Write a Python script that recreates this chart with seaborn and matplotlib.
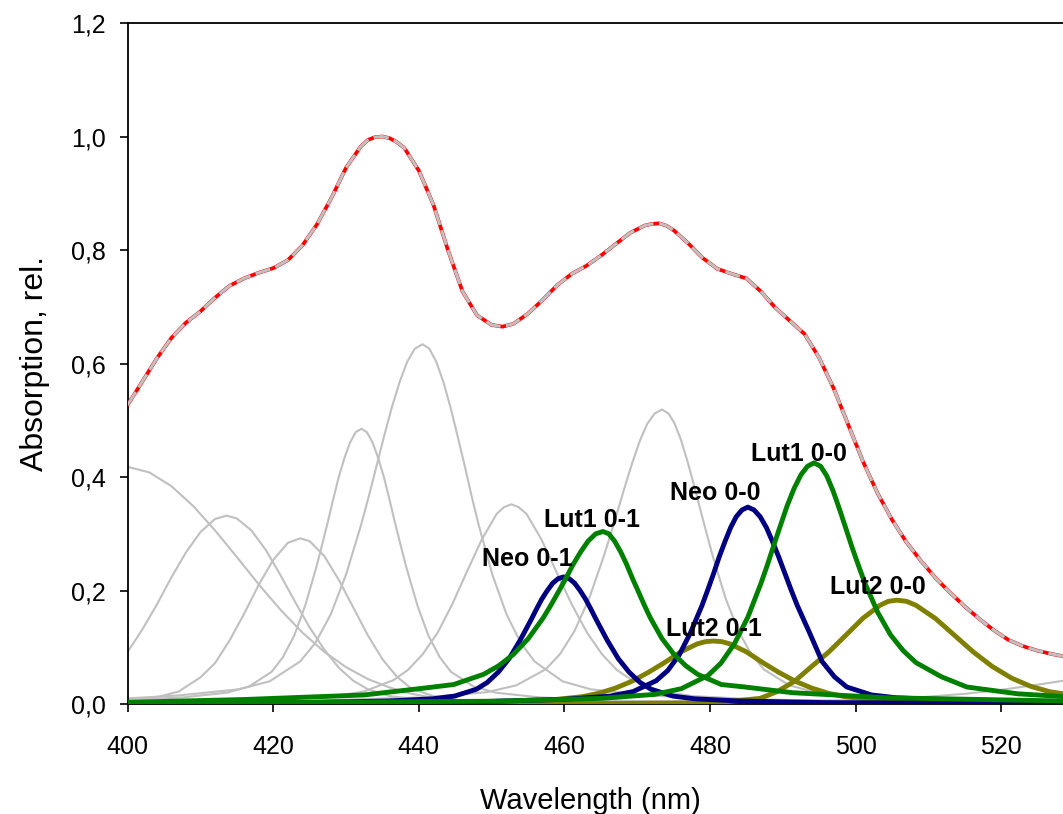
import matplotlib
matplotlib.use("Agg")
import matplotlib.pyplot as plt
import seaborn as sns

# ---------------- data ----------------
total_x = [400, 402, 404, 406, 408, 410, 412, 414, 416, 418, 420, 422, 424, 426, 428, 430, 432, 433, 434, 435, 436,
           437, 438, 440, 442, 444, 446, 448, 450, 451.5, 453, 455, 457, 459, 461, 463, 465, 467, 469, 471, 472,
           473, 474, 475, 477, 479, 481, 483, 485, 487, 489, 491, 493, 495, 497, 499, 501, 503, 505, 507, 509,
           511, 513, 515, 517, 519, 521, 523, 525, 527, 529]
total_y = [0.527, 0.568, 0.609, 0.645, 0.672, 0.692, 0.716, 0.737, 0.750, 0.760, 0.768, 0.782, 0.808, 0.845,
           0.892, 0.945, 0.982, 0.994, 0.999, 1.000, 0.997, 0.990, 0.980, 0.940, 0.880, 0.800, 0.727, 0.685,
           0.668, 0.665, 0.670, 0.688, 0.712, 0.738, 0.758, 0.772, 0.790, 0.810, 0.830, 0.843, 0.846, 0.847,
           0.843, 0.835, 0.812, 0.786, 0.767, 0.758, 0.750, 0.727, 0.698, 0.675, 0.652, 0.610, 0.556, 0.492,
           0.428, 0.372, 0.325, 0.285, 0.252, 0.222, 0.196, 0.172, 0.150, 0.130, 0.113, 0.102, 0.094, 0.088, 0.083]

# grey (unassigned) bands
g1_x = [400, 403, 406, 409, 412, 415, 418, 421, 424, 427, 430, 433, 436, 439, 442, 446, 450, 460, 480, 530]
g1_y = [0.418, 0.408, 0.384, 0.349, 0.306, 0.259, 0.211, 0.166, 0.126, 0.092, 0.065, 0.044, 0.029, 0.018,
        0.011, 0.006, 0.004, 0.002, 0.001, 0.0]
g2_x = [400, 402, 404, 406, 408, 410, 412, 413.6, 415, 417, 419, 421, 423, 425, 427, 429, 431, 433, 436, 440,
        445, 455, 480, 530]
g2_y = [0.092, 0.131, 0.175, 0.223, 0.267, 0.303, 0.326, 0.332, 0.327, 0.306, 0.271, 0.227, 0.180, 0.135,
        0.096, 0.064, 0.041, 0.026, 0.014, 0.008, 0.005, 0.002, 0.001, 0.0]
g3_x = [400, 404, 407, 410, 412, 414, 416, 418, 420, 422, 423.7, 425, 427, 429, 431, 433, 435, 437, 439, 442,
        446, 452, 470, 530]
g3_y = [0.006, 0.012, 0.022, 0.047, 0.072, 0.112, 0.159, 0.210, 0.254, 0.284, 0.292, 0.287, 0.261, 0.219,
        0.170, 0.121, 0.079, 0.048, 0.027, 0.014, 0.006, 0.003, 0.001, 0.0]
g4_x = [400, 407.5, 413.65, 416.7, 419.8, 421.3, 422.9, 424.4, 425.95, 426.72, 427.5, 428.26, 429.0, 429.79,
        430.56, 431.33, 432.1, 432.87, 433.64, 434.41, 435.2, 435.94, 436.7, 437.48, 438.25, 439.8, 441.3,
        442.9, 444.4, 447.5, 450.55, 456.7, 469.0, 530]
g4_y = [0.007, 0.0116, 0.020, 0.031, 0.057, 0.082, 0.121, 0.174, 0.2425, 0.281, 0.321, 0.362, 0.400, 0.434,
        0.461, 0.479, 0.485, 0.479, 0.461, 0.434, 0.400, 0.362, 0.321, 0.281, 0.2425, 0.174, 0.121, 0.082,
        0.057, 0.031, 0.020, 0.0116, 0.0053, 0.001]
g5_x = [400, 406.9, 415.3, 419.5, 423.7, 425.8, 427.9, 430.0, 432.1, 433.15, 434.2, 435.25, 436.3, 437.35,
        438.4, 439.45, 440.5, 441.46, 442.4, 443.39, 444.35, 445.31, 446.3, 447.24, 448.2, 450.1, 452.05,
        454.0, 455.9, 459.75, 463.6, 471.3, 486.7, 530]
g5_y = [0.010, 0.015, 0.026, 0.040, 0.075, 0.108, 0.158, 0.228, 0.317, 0.367, 0.420, 0.473, 0.523, 0.567,
        0.603, 0.626, 0.634, 0.626, 0.603, 0.567, 0.523, 0.473, 0.420, 0.367, 0.317, 0.228, 0.158, 0.108,
        0.075, 0.040, 0.026, 0.015, 0.007, 0.002]
g6_x = [400, 404.1, 420.3, 428.4, 432.45, 436.5, 438.5, 440.55, 442.6, 444.6, 446.6, 448.65, 450.7, 451.7,
        452.7, 453.7, 454.8, 456.85, 458.9, 461.0, 463.1, 465.15, 467.2, 469.3, 473.45, 477.6, 485.9, 502.5, 530]
g6_y = [0.003, 0.004, 0.0085, 0.014, 0.022, 0.042, 0.060, 0.088, 0.126, 0.176, 0.233, 0.290, 0.335, 0.347,
        0.352, 0.347, 0.335, 0.290, 0.233, 0.176, 0.126, 0.088, 0.060, 0.042, 0.022, 0.014, 0.0085, 0.004, 0.0016]
g7_x = [400, 425.4, 441.4, 449.4, 453.4, 457.4, 459.4, 461.4, 463.4, 465.4, 466.4, 467.4, 468.4, 469.4, 470.4,
        471.4, 472.4, 473.4, 474.3, 475.15, 476.03, 476.9, 477.78, 478.65, 479.53, 480.4, 482.15, 483.9, 485.65,
        487.4, 490.9, 494.4, 501.4, 515.4, 530]
g7_y = [0.0024, 0.006, 0.012, 0.021, 0.033, 0.061, 0.088, 0.129, 0.186, 0.260, 0.301, 0.344, 0.387, 0.428,
        0.465, 0.494, 0.512, 0.519, 0.512, 0.494, 0.465, 0.428, 0.387, 0.344, 0.301, 0.260, 0.186, 0.129,
        0.088, 0.061, 0.033, 0.021, 0.012, 0.006, 0.003]
g8_x = [480, 490, 500, 505, 510, 515, 520, 525, 530]
g8_y = [0.002, 0.004, 0.007, 0.009, 0.013, 0.018, 0.025, 0.034, 0.044]

# assigned bands
neo01_x = [400, 423.9, 435.9, 441.9, 444.9, 447.9, 449.4, 450.9, 452.4, 453.9, 454.65, 455.4, 456.15, 456.9,
           457.65, 458.4, 459.15, 459.9, 460.65, 461.4, 462.15, 462.9, 463.65, 464.4, 465.15, 465.9, 467.4,
           468.9, 470.4, 471.9, 474.9, 477.9, 483.9, 495.9, 530]
neo01_y = [0.001, 0.0025, 0.0054, 0.0092, 0.014, 0.026, 0.038, 0.056, 0.080, 0.112, 0.130, 0.148, 0.167,
           0.185, 0.200, 0.213, 0.221, 0.224, 0.221, 0.213, 0.200, 0.185, 0.167, 0.148, 0.130, 0.112, 0.080,
           0.056, 0.038, 0.026, 0.014, 0.0092, 0.0054, 0.0025, 0.001]
neo00_x = [400, 447.4, 460.0, 466.3, 469.45, 472.6, 474.2, 475.75, 477.3, 478.9, 479.69, 480.5, 481.26, 482.05,
           482.84, 483.6, 484.4, 485.2, 486.05, 486.9, 487.75, 488.6, 489.45, 490.3, 491.15, 492.0, 493.7,
           495.4, 497.1, 498.8, 502.2, 505.6, 512.4, 526.0, 530]
neo00_y = [0.001, 0.0038, 0.0083, 0.014, 0.022, 0.041, 0.059, 0.086, 0.125, 0.1735, 0.201, 0.230, 0.259,
           0.286, 0.311, 0.330, 0.342, 0.347, 0.342, 0.330, 0.311, 0.286, 0.259, 0.230, 0.201, 0.1735, 0.125,
           0.075, 0.048, 0.030, 0.016, 0.011, 0.0075, 0.0038, 0.003]
lut101_x = [400, 416.1, 432.5, 440.7, 444.8, 448.9, 450.95, 453.0, 455.05, 457.1, 458.13, 459.15, 460.18,
            461.2, 462.23, 463.25, 464.3, 465.3, 466.1, 466.9, 467.74, 468.55, 469.36, 470.2, 470.99, 471.8,
            473.4, 475.05, 476.7, 478.3, 481.55, 484.8, 491.3, 504.3, 530]
lut101_y = [0.003, 0.008, 0.016, 0.028, 0.0344, 0.0524, 0.0672, 0.0876, 0.1155, 0.152, 0.174, 0.197, 0.221,
            0.246, 0.268, 0.287, 0.300, 0.304, 0.300, 0.287, 0.268, 0.246, 0.221, 0.197, 0.174, 0.152, 0.1155,
            0.0876, 0.0672, 0.0524, 0.0344, 0.030, 0.020, 0.011, 0.005]
lut100_x = [400, 450.5, 465.1, 472.4, 476.05, 479.7, 481.5, 483.35, 485.2, 487.0, 487.91, 488.8, 489.74, 490.65,
            491.56, 492.5, 493.4, 494.3, 495.2, 496.05, 496.93, 497.8, 498.68, 499.55, 500.43, 501.3, 503.05,
            504.8, 506.55, 508.3, 511.8, 515.3, 522.3, 530]
lut100_y = [0.001, 0.005, 0.010, 0.017, 0.027, 0.050, 0.072, 0.106, 0.153, 0.2125, 0.246, 0.281, 0.317, 0.351,
            0.380, 0.404, 0.419, 0.425, 0.419, 0.402, 0.375, 0.343, 0.309, 0.275, 0.243, 0.2125, 0.1615, 0.122,
            0.094, 0.073, 0.048, 0.030, 0.018, 0.012]
lut201_x = [400, 426.5, 444.5, 453.5, 458.0, 462.5, 464.75, 467.0, 469.25, 471.5, 473.75, 476.0, 478.25, 479.4,
            480.5, 481.6, 482.75, 485.0, 487.25, 489.5, 491.75, 494.0, 496.25, 498.5, 503.0, 507.5, 516.5, 530]
lut201_y = [0.0006, 0.0012, 0.0027, 0.0046, 0.007, 0.013, 0.019, 0.028, 0.040, 0.0555, 0.073, 0.092, 0.106,
            0.110, 0.111, 0.110, 0.106, 0.092, 0.073, 0.0555, 0.040, 0.028, 0.019, 0.013, 0.007, 0.0046, 0.0027,
            0.0014]
lut200_x = [400, 468.1, 477.5, 482.2, 486.9, 489.25, 491.6, 493.95, 496.3, 498.65, 501.0, 503.35, 504.5, 505.7,
            507.0, 508.3, 510.95, 513.6, 516.2, 518.8, 521.45, 524.1, 526.7, 532]
lut200_y = [0.0005, 0.001, 0.002, 0.004, 0.010, 0.022, 0.040, 0.066, 0.0915, 0.121, 0.151, 0.174, 0.181, 0.183,
            0.181, 0.174, 0.151, 0.121, 0.0915, 0.066, 0.0456, 0.031, 0.0216, 0.0115]

band_labels = ["Neo 0-1", "Lut1 0-1", "Neo 0-0", "Lut1 0-0", "Lut2 0-1", "Lut2 0-0"]
x_ticks = [400, 420, 440, 460, 480, 500, 520]
x_ticklabels = ["400", "420", "440", "460", "480", "500", "520"]
y_ticks = [0.0, 0.2, 0.4, 0.6, 0.8, 1.0, 1.2]
y_ticklabels = ["0,0", "0,2", "0,4", "0,6", "0,8", "1,0", "1,2"]
x_title = "Wavelength (nm)"
y_title = "Absorption, rel."

# ---------------- styling / layout ----------------
sns.set_theme(style="ticks")
plt.rcParams['font.family'] = ['Liberation Sans', 'DejaVu Sans']

fig = plt.figure(figsize=(10.63, 8.14), dpi=100)
ax = fig.add_axes([0.1201, 0.1351, 0.8799, 0.8366])

GREY = "#C0C0C0"
NAVY = "#000080"
GREEN = "#008000"
OLIVE = "#808000"

def line(x, y, color, lw, z, **kw):
    sns.lineplot(x=x, y=y, ax=ax, color=color, linewidth=lw, estimator=None,
                 sort=False, legend=False, zorder=z, **kw)

for gx, gy in [(g1_x, g1_y), (g2_x, g2_y), (g3_x, g3_y), (g4_x, g4_y), (g5_x, g5_y),
               (g6_x, g6_y), (g7_x, g7_y), (g8_x, g8_y)]:
    line(gx, gy, GREY, 1.5, 2)

line(lut201_x, lut201_y, OLIVE, 3.5, 3)
line(lut200_x, lut200_y, OLIVE, 3.5, 3)
line(neo01_x, neo01_y, NAVY, 3.5, 4)
line(neo00_x, neo00_y, NAVY, 3.5, 4)
line(lut101_x, lut101_y, GREEN, 3.5, 5)
line(lut100_x, lut100_y, GREEN, 3.5, 5)

line(total_x, total_y, "#FF0000", 2.7, 6)
line(total_x, total_y, GREY, 2.2, 7, linestyle=(0, (5, 1.8)))

# band labels
label_pos = [(454.9, 0.255), (463.85, 0.3245), (480.7, 0.372), (492.2, 0.4406), (480.6, 0.132), (503.0, 0.206)]
for txt, (lx, ly) in zip(band_labels, label_pos):
    ax.text(lx, ly, txt, ha="center", va="center", fontsize=18, fontweight="bold", color="black", zorder=8)

ax.set_xlim(400, 528.5)
ax.set_ylim(0, 1.2)
ax.set_xticks(x_ticks)
ax.set_xticklabels(x_ticklabels)
ax.set_yticks(y_ticks)
ax.set_yticklabels(y_ticklabels)

for s in ["left", "bottom", "top"]:
    ax.spines[s].set_linewidth(1.3)
    ax.spines[s].set_color("black")
ax.spines["right"].set_visible(False)
ax.tick_params(axis="both", direction="out", length=6, width=1.2, colors="black", labelsize=18)
ax.tick_params(axis="x", pad=16, top=False)
ax.tick_params(axis="y", pad=10, right=False)

ax.set_xlabel(x_title, fontsize=21, color="black")
ax.set_ylabel(y_title, fontsize=23, color="black")
ax.xaxis.set_label_coords(0.495, -0.122)
ax.yaxis.set_label_coords(-0.083, 0.5)

fig.savefig("out.png", dpi=100)
